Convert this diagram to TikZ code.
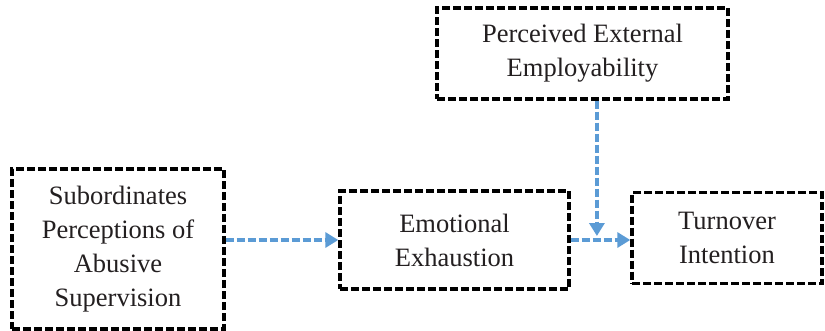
\documentclass[tikz,border=0pt]{standalone}
\usepackage{fontspec}
\setmainfont{Liberation Serif}
\usetikzlibrary{calc,arrows.meta}
\definecolor{flowblue}{RGB}{91,155,213}
\definecolor{inkgray}{RGB}{35,31,32}
\begin{document}
\begin{tikzpicture}[
  x=1pt, y=-1pt,
  every node/.style={font=\fontsize{26.5}{34}\selectfont, align=center, text=inkgray},
  box/.style={draw=black, line width=3.4pt, dash pattern=on 8pt off 3pt,
    inner sep=0pt, rectangle},
  flow/.style={draw=flowblue, line width=3.6pt, dash pattern=on 8pt off 3pt,
    -{Triangle[length=13pt,width=15pt]}}
]
\useasboundingbox (0,0) rectangle (825,330);
\node[box, minimum width=212pt, minimum height=160pt] (SPAS) at (118,249)
  {Subordinates\\Perceptions of\\Abusive\\Supervision};
\node[box, minimum width=229pt, minimum height=98pt] (EE) at (454.5,240)
  {Emotional\\Exhaustion};
\node[box, minimum width=190pt, minimum height=91pt] (TI) at (727,238)
  {Turnover\\Intention};
\node[box, minimum width=291pt, minimum height=91pt] (PEE) at (582.5,53.5)
  {Perceived External\\Employability};
\coordinate (mod) at ($(EE.east)!0.44!(EE.east -| TI.west)$);
\draw[flow] (SPAS.east |- EE.west) -- (EE.west);
\draw[flow] (EE.east) -- (EE.east -| TI.west);
\draw[flow] (PEE.south -| mod) -- ([yshift=4pt]mod);
\end{tikzpicture}
\end{document}
